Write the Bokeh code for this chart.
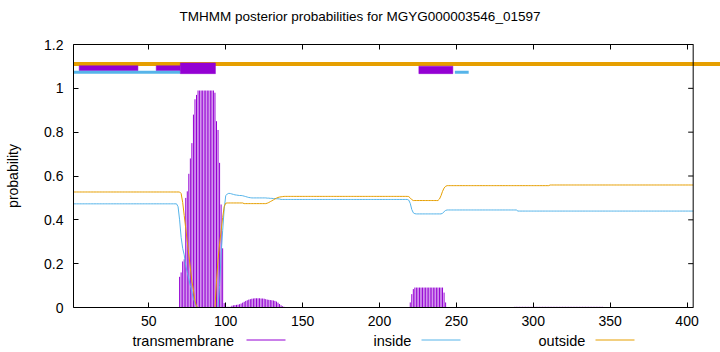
from bokeh.plotting import figure
from bokeh.layouts import column
from bokeh.models import (Range1d, FixedTicker, CustomJSTickFormatter, LinearAxis,
                          Span, Title)
from bokeh.embed import file_html
from bokeh.resources import INLINE
from bokeh.core.properties import value

# ---------------- data ----------------
TITLE = "TMHMM posterior probabilities for MGYG000003546_01597"
SEQ_LEN = 404
residues = list(range(1, SEQ_LEN + 1))

transmembrane = ([0.0] * 26 + [0.002] * 20 + [0.0] * 23
                 + [0.14, 0.16, 0.21, 0.22, 0.50, 0.53, 0.61, 0.68, 0.75, 0.88, 0.95, 0.97]
                 + [0.99] * 11
                 + [0.98, 0.85, 0.81, 0.66, 0.47, 0.27, 0.02]
                 + [0.003] * 4
                 + [0.008, 0.01, 0.011, 0.012, 0.013, 0.015, 0.018, 0.022]
                 + [0.026, 0.03, 0.033, 0.036, 0.038]
                 + [0.04, 0.041, 0.042, 0.042, 0.042, 0.042, 0.041, 0.041, 0.04, 0.038]
                 + [0.036, 0.035, 0.034, 0.033, 0.032, 0.03, 0.027, 0.022, 0.016]
                 + [0.01, 0.006, 0.003]
                 + [0.001] * 11 + [0.002] * 49 + [0.0] * 21
                 + [0.023, 0.061, 0.084] + [0.091] * 19 + [0.068, 0.023]
                 + [0.0] * 44 + [0.003] * 58 + [0.0] * 59)

inside = ([0.473] * 68
          + [0.46, 0.40, 0.32, 0.27, 0.24, 0.19, 0.16, 0.13, 0.10, 0.07, 0.04, 0.02, 0.005]
          + [0.0] * 14
          + [0.1, 0.24, 0.35, 0.45, 0.51, 0.518, 0.521]
          + [0.52, 0.518, 0.516, 0.514, 0.513, 0.512, 0.511, 0.511, 0.51]
          + [0.508, 0.506, 0.504, 0.502, 0.501, 0.5]
          + [0.5] * 9 + [0.499, 0.499, 0.498, 0.498, 0.497, 0.497, 0.496, 0.496, 0.495]
          + [0.493] * 83
          + [0.49, 0.475, 0.447, 0.432, 0.428]
          + [0.427] * 17
          + [0.43, 0.437, 0.443]
          + [0.445] * 46 + [0.44] * 115)

outside = ([0.527] * 70
           + [0.52, 0.48, 0.42, 0.36, 0.30, 0.24, 0.18, 0.12, 0.08, 0.03, 0.005]
           + [0.0] * 12
           + [0.12, 0.22, 0.29, 0.35, 0.41, 0.46, 0.476]
           + [0.477] * 11 + [0.474] * 15
           + [0.476, 0.479, 0.483, 0.487, 0.491, 0.495, 0.499, 0.502, 0.504, 0.505, 0.506]
           + [0.507] * 81
           + [0.506, 0.5, 0.492, 0.488]
           + [0.488] * 16
           + [0.495, 0.51, 0.53, 0.545, 0.553]
           + [0.556] * 67 + [0.559] * 94)

# predicted topology segments (residue start, residue end) drawn above 1.0
# (the "outside" bar runs past the end of the axis box in the original)
outside_start = [1]
outside_end = [422]
inside_start = [1, 249]
inside_end = [70.5, 258]
tm_thin_start = [4.7, 54.8]
tm_thin_end = [42.9, 70.5]
tm_box_start = [70.5, 225.6]
tm_box_end = [93.3, 247.7]
tm_box_top = [1.116, 1.101]

x_ticks = [50, 100, 150, 200, 250, 300, 350, 400]
y_ticks = [0, 0.2, 0.4, 0.6, 0.8, 1.0, 1.2]

legend_labels = ["transmembrane", "inside", "outside"]

C_TM = "#9400D3"
C_IN = "#56B4E9"
C_OUT = "#E69F00"
legend_colors = [C_TM, C_IN, C_OUT]

FONT = "Liberation Sans"
FS = "14px"

# the drawing area runs to the right edge of the page so the top "outside"
# bar can overflow the axis box as in the original; the box itself ends at SEQ_LEN
X_END = SEQ_LEN + 27.3 * (SEQ_LEN - 1) / 619.4

# ---------------- main plot ----------------
p = figure(width=720, height=331, x_range=Range1d(1, X_END), y_range=Range1d(0, 1.2),
           output_backend="svg", toolbar_location=None, title_location=None,
           min_border_left=73, min_border_right=0, min_border_top=44, min_border_bottom=24)
p.background_fill_color = "white"
p.border_fill_color = "white"
p.outline_line_color = None
p.xgrid.visible = False
p.ygrid.visible = False

xt = FixedTicker(ticks=x_ticks)
yt = FixedTicker(ticks=y_ticks)
p.xaxis.ticker = xt
p.xaxis.bounds = (1, SEQ_LEN)
p.yaxis.ticker = yt
p.yaxis.formatter = CustomJSTickFormatter(code="return Number(tick.toFixed(1)).toString();")
p.yaxis.axis_label = "probability"
p.yaxis.axis_label_text_font = FONT
p.yaxis.axis_label_text_font_size = FS
p.yaxis.axis_label_text_font_style = "normal"
p.yaxis.axis_label_text_color = "black"
p.yaxis.axis_label_standoff = 20
for ax in (p.xaxis[0], p.yaxis[0]):
    ax.major_tick_in = 5
    ax.major_tick_out = 0
    ax.minor_tick_line_color = None
    ax.axis_line_color = "black"
    ax.major_tick_line_color = "black"
    ax.major_label_text_font = FONT
    ax.major_label_text_font_size = FS
    ax.major_label_text_color = "black"
p.yaxis.major_label_standoff = 10
p.xaxis.major_label_standoff = 8

# mirrored top axis (ticks only) - also closes the box at the top
blank = CustomJSTickFormatter(code="return ' ';")
top_ax = LinearAxis(ticker=xt, formatter=blank, bounds=(1, SEQ_LEN),
                    major_tick_in=5, major_tick_out=0, minor_tick_line_color=None,
                    axis_line_color="black", major_tick_line_color="black",
                    major_label_text_font_size="1px", major_label_standoff=12)
p.add_layout(top_ax, "above")

# title: added after the top axis so it sits above it
p.add_layout(Title(text=TITLE, align="left", offset=106, text_font=FONT,
                   text_font_size="13.5px", text_font_style="normal",
                   text_color="black"), "above")

# right side of the axis box, with inward ticks
p.add_layout(Span(location=SEQ_LEN, dimension="height", line_color="black", line_width=1))
TICK_LEN = 5 * (SEQ_LEN - 1) / 619.4
p.segment(x0=[SEQ_LEN - TICK_LEN] * len(y_ticks), y0=y_ticks,
          x1=[SEQ_LEN] * len(y_ticks), y1=y_ticks, line_color="black", line_width=1)

# posterior probabilities
p.segment(x0=residues, y0=[0] * SEQ_LEN, x1=residues, y1=transmembrane,
          line_color=C_TM, line_width=1)
p.line(residues, inside, line_color=C_IN, line_width=1)
p.line(residues, outside, line_color=C_OUT, line_width=1)

# topology bars at the top
p.segment(x0=outside_start, y0=[1.111] * len(outside_start), x1=outside_end,
          y1=[1.111] * len(outside_end), line_color=C_OUT, line_width=4)
p.quad(left=tm_thin_start, right=tm_thin_end, bottom=[1.080] * 2, top=[1.103] * 2,
       fill_color=C_TM, line_color=C_TM, line_alpha=0.5)
p.segment(x0=inside_start, y0=[1.073] * len(inside_start), x1=inside_end,
          y1=[1.073] * len(inside_end), line_color=C_IN, line_width=3)
p.quad(left=tm_box_start, right=tm_box_end, bottom=[1.067] * 2, top=tm_box_top,
       fill_color=C_TM, line_color=C_TM, line_alpha=0.5)

# ---------------- legend row (gnuplot style: text, then sample line) ----------------
# its drawing area lines up with the main plot's (page x 73 .. 720)
leg = figure(width=720, height=21, x_range=Range1d(73, 720), y_range=Range1d(0, 21),
             output_backend="svg", toolbar_location=None, min_border=0,
             min_border_left=73, min_border_right=0, min_border_top=0, min_border_bottom=0,
             x_axis_location=None, y_axis_location=None, title_location=None)
leg.outline_line_color = None
leg.xgrid.visible = False
leg.ygrid.visible = False
leg.background_fill_color = "white"
leg.border_fill_color = "white"
text_left = [132, 373, 538]
sample_left = [246, 421, 595]
SAMPLE_LEN = 39
leg.text(x=text_left, y=[12] * 3, text=legend_labels, text_align="left",
         text_baseline="middle", text_font=value(FONT), text_font_size="14.5px",
         text_color="black")
leg.segment(x0=sample_left, y0=[12.5] * 3,
            x1=[s + SAMPLE_LEN for s in sample_left], y1=[12.5] * 3,
            line_color=legend_colors, line_width=1)

layout = column(p, leg, spacing=0)
open("out.html", "w").write(file_html(layout, INLINE))
